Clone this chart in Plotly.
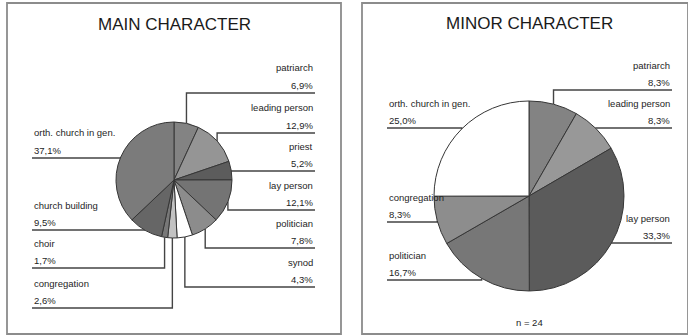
import math
import plotly.graph_objects as go

W, H = 688, 336

# Shares of each character type (percent), listed clockwise from 12 o'clock
main_labels = ["patriarch", "leading person", "priest", "lay person", "politician",
               "synod", "congregation", "choir", "church building", "orth. church in gen."]
main_share = [6.9, 12.9, 5.2, 12.1, 7.8, 4.3, 2.6, 1.7, 9.5, 37.1]

minor_labels = ["patriarch", "leading person", "lay person", "politician",
                "congregation", "orth. church in gen."]
minor_share = [8.3, 8.3, 33.3, 16.7, 8.3, 25.0]
minor_n = 24

panel_titles = ["MAIN CHARACTER", "MINOR CHARACTER"]

# Slice fills (greyscale print style)
main_colors = ["#838383", "#959595", "#5c5c5c", "#747474", "#8c8c8c",
               "#ffffff", "#c2c2c2", "#787878", "#666666", "#7b7b7b"]
minor_colors = ["#838383", "#989898", "#5b5b5b", "#777777", "#8d8d8d", "#ffffff"]

# Pie geometry in pixels: centre x, centre y (from top), radius
main_geom = (174, 180, 58)
minor_geom = (529, 196, 95)

# Label layout: (side, leader line y) per slice
main_layout = [("r", 93), ("r", 133), ("r", 171), ("r", 210), ("r", 248), ("r", 287),
               ("l", 308), ("l", 268), ("l", 230), ("l", 158)]
minor_layout = [("r", 90), ("r", 128), ("r", 243), ("l", 280), ("l", 222), ("l", 128)]
main_edges = (32, 315)   # left text start, right text end
minor_edges = (387, 672)

FONT = "Liberation Sans, Arial, sans-serif"
INK = "#1e1e1e"
LINE = "#444444"


def px(x):
    return x / W


def py(y):
    return 1 - y / H


def fmt(v):
    return f"{v:.1f}".replace(".", ",") + "%"


fig = go.Figure()
shapes = []
annotations = []


def add_pie(labels, shares, colors, geom, layout, edges):
    cx, cy, r = geom
    fig.add_trace(go.Pie(
        labels=labels, values=shares, sort=False, direction="clockwise",
        rotation=0, textinfo="none", hoverinfo="label+percent",
        marker=dict(colors=colors, line=dict(color="#363636", width=1)),
        domain=dict(x=[px(cx - r), px(cx + r)], y=[py(cy + r), py(cy - r)]),
        showlegend=False,
    ))
    total = sum(shares)
    cum = 0.0
    for lab, v, (side, ly) in zip(labels, shares, layout):
        mid = (cum + v / 2) / total * 2 * math.pi
        cum += v
        ax = cx + r * math.sin(mid)
        ay = cy - r * math.cos(mid)
        end = edges[1] if side == "r" else edges[0]
        path = (f"M {px(end)} {py(ly)} L {px(ax)} {py(ly)} L {px(ax)} {py(ay)}")
        shapes.append(dict(type="path", path=path, xref="paper", yref="paper",
                           line=dict(color=LINE, width=1.4), layer="below"))
        anchor = "right" if side == "r" else "left"
        for txt, off in ((lab, 25), (fmt(v), 8)):
            annotations.append(dict(
                text=txt, x=px(end), y=py(ly - off), xref="paper", yref="paper",
                xanchor=anchor, yanchor="middle", showarrow=False,
                font=dict(family=FONT, size=9.5, color=INK)))


add_pie(main_labels, main_share, main_colors, main_geom, main_layout, main_edges)
add_pie(minor_labels, minor_share, minor_colors, minor_geom, minor_layout, minor_edges)

# Panel frames
for x0, x1 in ((7, 341), (362, 688)):
    shapes.append(dict(type="rect", xref="paper", yref="paper",
                       x0=px(x0), x1=px(x1), y0=py(334), y1=py(3),
                       line=dict(color="#8c8c8c", width=1.8), layer="below"))

# Panel titles
for title, cx, ty in zip(panel_titles, (174, 529), (25, 24)):
    annotations.append(dict(text=title, x=px(cx), y=py(ty), xref="paper", yref="paper",
                            xanchor="center", yanchor="middle", showarrow=False,
                            font=dict(family=FONT, size=17, color="#1a1a1a")))

annotations.append(dict(text=f"n = {minor_n}", x=px(529), y=py(322), xref="paper",
                        yref="paper", xanchor="center", yanchor="middle", showarrow=False,
                        font=dict(family=FONT, size=9.5, color=INK)))

fig.update_layout(
    width=W, height=H, margin=dict(l=0, r=0, t=0, b=0),
    paper_bgcolor="white", plot_bgcolor="white",
    shapes=shapes, annotations=annotations,
)

fig.write_html("out.html")
